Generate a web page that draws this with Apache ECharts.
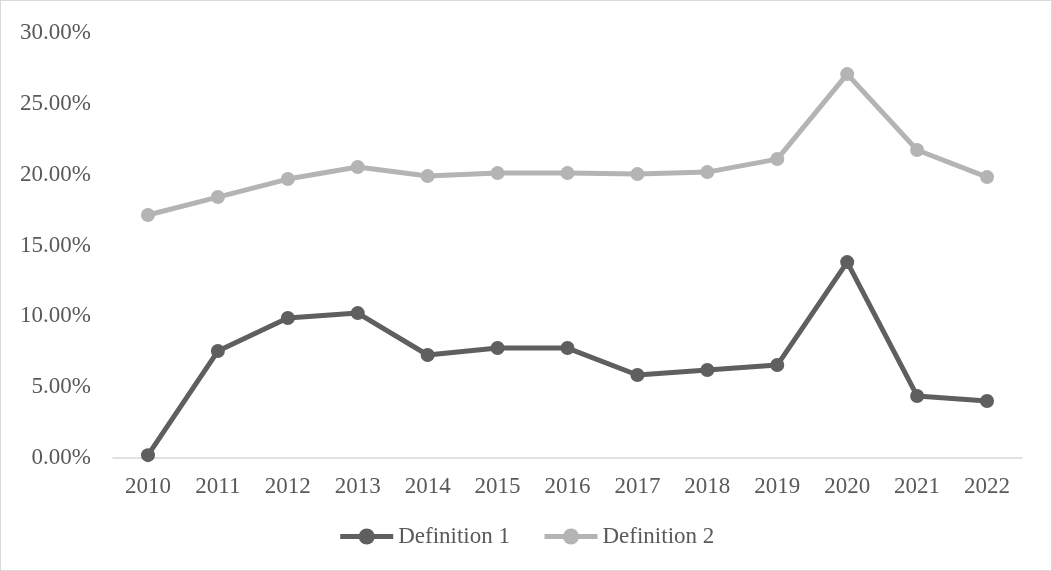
<!DOCTYPE html>
<html>
<head>
<meta charset="utf-8">
<script src="https://cdn.jsdelivr.net/npm/echarts@6/dist/echarts.min.js"></script>
<style>
  html, body { margin: 0; padding: 0; background: #fff; }
  #chart { width: 1052px; height: 571px; box-sizing: border-box; border: 1px solid #d9d9d9; }
</style>
</head>
<body>
<div id="chart"></div>
<script>
var years = ["2010", "2011", "2012", "2013", "2014", "2015", "2016", "2017", "2018", "2019", "2020", "2021", "2022"];
var def1 = [0.20, 7.55, 9.88, 10.23, 7.27, 7.76, 7.76, 5.86, 6.21, 6.56, 13.83, 4.38, 4.02];
var def2 = [17.15, 18.42, 19.69, 20.54, 19.90, 20.11, 20.11, 20.04, 20.18, 21.10, 27.10, 21.74, 19.83];

var FONT = "'Liberation Serif', 'Times New Roman', serif";
var TEXT = "#595959";

var chart = echarts.init(document.getElementById("chart"));

var mkSeries = (name, data, color) => ({
  name: name,
  type: "line",
  data: data,
  symbol: "circle",
  symbolSize: 14,
  lineStyle: { width: 5, color: color },
  itemStyle: { color: color },
  emphasis: { disabled: true },
  z: name === "Definition 1" ? 3 : 2,
});

chart.setOption({
  animation: false,
  backgroundColor: "#fff",
  grid: { left: 112, right: 29, top: 32, bottom: 112 },
  legend: {
    bottom: 17,
    left: "center",
    itemWidth: 53,
    itemHeight: 20,
    itemGap: 32,
    lineStyle: { width: 5 },
    textStyle: { fontFamily: FONT, fontSize: 23, color: TEXT },
    data: ["Definition 1", "Definition 2"],
  },
  xAxis: {
    type: "category",
    data: years,
    boundaryGap: true,
    axisLine: { lineStyle: { color: "#d9d9d9", width: 1.5 } },
    axisTick: { show: false },
    axisLabel: { fontFamily: FONT, fontSize: 23, color: TEXT, margin: 17 },
  },
  yAxis: {
    type: "value",
    min: 0,
    max: 30,
    interval: 5,
    splitLine: { show: false },
    axisLine: { show: false },
    axisTick: { show: false },
    axisLabel: {
      fontFamily: FONT,
      fontSize: 23,
      color: TEXT,
      margin: 22,
      formatter: (v) => v.toFixed(2) + "%",
    },
  },
  series: [
    mkSeries("Definition 1", def1, "#5f5f5f"),
    mkSeries("Definition 2", def2, "#b4b4b4"),
  ],
});
</script>
</body>
</html>
